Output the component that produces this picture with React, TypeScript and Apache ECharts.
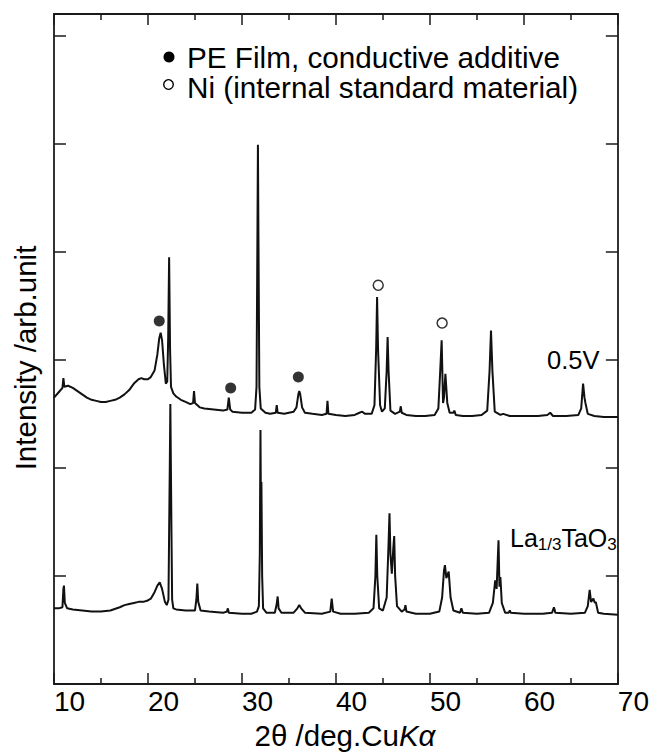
import React, { useEffect, useRef } from "react";
import * as echarts from "echarts";

// 0.5V pattern (upper), [2θ, intensity offset]
const pattern05V: [number, number][] = [
  [10.0, 2.65], [10.5, 2.7], [10.9, 2.74], [11.0, 2.83], [11.1, 2.75], [11.5, 2.76], [12.0, 2.74],
  [12.5, 2.71], [13.0, 2.68], [13.5, 2.65], [14.0, 2.63], [14.5, 2.62], [15.0, 2.61], [15.5, 2.61],
  [16.0, 2.62], [16.5, 2.63], [17.0, 2.65], [17.5, 2.68], [18.0, 2.72], [18.5, 2.78], [19.0, 2.82],
  [19.3, 2.83], [19.6, 2.82], [20.0, 2.82], [20.3, 2.84], [20.7, 2.9], [21.0, 3.05], [21.2, 3.2],
  [21.35, 3.25], [21.5, 3.18], [21.7, 2.95], [21.9, 2.78], [22.05, 2.8], [22.15, 3.2], [22.25, 3.95],
  [22.35, 3.1], [22.45, 2.75], [22.7, 2.69], [23.0, 2.66], [23.5, 2.63], [24.0, 2.61], [24.5, 2.59],
  [24.8, 2.6], [24.9, 2.71], [25.0, 2.6], [25.5, 2.56], [26.0, 2.55], [27.0, 2.54], [28.0, 2.53],
  [28.45, 2.54], [28.6, 2.65], [28.75, 2.54], [29.0, 2.52], [30.0, 2.51], [31.0, 2.51], [31.4, 2.54],
  [31.55, 2.75], [31.65, 4.2], [31.7, 4.99], [31.75, 4.2], [31.85, 2.75], [32.0, 2.55], [32.5, 2.51],
  [33.0, 2.5], [33.6, 2.51], [33.7, 2.58], [33.8, 2.51], [34.5, 2.5], [35.5, 2.52], [35.8, 2.56],
  [36.0, 2.68], [36.1, 2.71], [36.2, 2.68], [36.4, 2.56], [36.7, 2.51], [37.5, 2.5], [38.5, 2.49],
  [39.0, 2.5], [39.1, 2.62], [39.2, 2.5], [40.0, 2.49], [41.0, 2.48], [42.0, 2.49], [42.5, 2.51],
  [42.8, 2.52], [43.1, 2.5], [43.8, 2.5], [44.1, 2.58], [44.28, 3.1], [44.38, 3.58], [44.48, 3.1],
  [44.7, 2.58], [44.9, 2.52], [45.2, 2.55], [45.4, 2.9], [45.5, 3.21], [45.6, 2.9], [45.8, 2.53],
  [46.3, 2.5], [46.8, 2.52], [46.9, 2.57], [47.0, 2.51], [47.5, 2.49], [48.5, 2.48], [49.5, 2.48],
  [50.5, 2.49], [50.9, 2.55], [51.1, 2.9], [51.25, 3.18], [51.4, 2.6], [51.5, 2.65], [51.65, 2.87],
  [51.85, 2.6], [52.1, 2.51], [52.5, 2.51], [52.6, 2.53], [52.75, 2.49], [53.5, 2.48], [54.5, 2.48],
  [55.5, 2.49], [56.1, 2.53], [56.35, 2.9], [56.5, 3.27], [56.65, 2.9], [56.9, 2.52], [57.5, 2.49],
  [57.8, 2.5], [58.5, 2.48], [60.0, 2.48], [61.5, 2.48], [62.5, 2.49], [62.8, 2.51], [63.1, 2.48],
  [64.5, 2.48], [65.8, 2.49], [66.1, 2.55], [66.3, 2.78], [66.45, 2.65], [66.55, 2.6], [66.8, 2.5],
  [67.5, 2.48], [68.5, 2.47], [70.0, 2.47],
];

// La1/3TaO3 pattern (lower)
const patternLaTaO3: [number, number][] = [
  [10.0, 0.7], [10.5, 0.7], [10.9, 0.71], [11.0, 0.88], [11.06, 0.91], [11.15, 0.75], [11.4, 0.7],
  [12.0, 0.69], [13.0, 0.68], [14.0, 0.67], [15.0, 0.67], [16.0, 0.68], [17.0, 0.71], [17.5, 0.73],
  [18.0, 0.74], [18.5, 0.75], [19.0, 0.76], [19.5, 0.76], [19.9, 0.77], [20.3, 0.79], [20.7, 0.85],
  [21.0, 0.91], [21.25, 0.94], [21.5, 0.88], [21.8, 0.76], [22.0, 0.73], [22.18, 0.78], [22.25, 1.4],
  [22.32, 2.0], [22.38, 2.59], [22.44, 2.0], [22.5, 1.4], [22.57, 0.78], [22.7, 0.7], [23.0, 0.69],
  [24.0, 0.68], [25.0, 0.68], [25.15, 0.78], [25.25, 0.93], [25.35, 0.76], [25.6, 0.68], [26.5, 0.67],
  [28.0, 0.66], [28.4, 0.67], [28.5, 0.7], [28.6, 0.66], [30.0, 0.65], [31.0, 0.65], [31.6, 0.67],
  [31.8, 0.72], [31.9, 1.2], [31.97, 2.35], [32.02, 1.6], [32.07, 1.87], [32.15, 1.0], [32.25, 0.7],
  [32.6, 0.66], [33.5, 0.66], [33.7, 0.74], [33.8, 0.81], [33.9, 0.7], [34.2, 0.66], [35.5, 0.66],
  [35.9, 0.7], [36.1, 0.73], [36.3, 0.7], [36.7, 0.66], [38.5, 0.65], [39.4, 0.67], [39.55, 0.79],
  [39.7, 0.67], [40.5, 0.65], [42.0, 0.65], [43.5, 0.66], [44.0, 0.7], [44.2, 1.0], [44.3, 1.38],
  [44.4, 1.0], [44.6, 0.7], [45.0, 0.68], [45.4, 0.8], [45.6, 1.3], [45.7, 1.58], [45.8, 1.2],
  [45.95, 1.02], [46.1, 1.25], [46.2, 1.37], [46.3, 1.0], [46.5, 0.72], [47.0, 0.67], [47.3, 0.69],
  [47.4, 0.73], [47.5, 0.67], [48.5, 0.65], [50.0, 0.65], [51.0, 0.67], [51.3, 0.8], [51.5, 1.05],
  [51.6, 1.1], [51.75, 0.98], [51.9, 1.02], [52.0, 1.04], [52.2, 0.8], [52.5, 0.68], [53.2, 0.66],
  [53.35, 0.7], [53.5, 0.66], [55.0, 0.65], [56.3, 0.66], [56.7, 0.75], [56.95, 0.96], [57.1, 0.88],
  [57.3, 1.33], [57.4, 0.9], [57.5, 0.99], [57.65, 0.75], [58.0, 0.66], [58.4, 0.66], [58.5, 0.68],
  [58.6, 0.66], [60.0, 0.65], [62.0, 0.65], [63.0, 0.66], [63.2, 0.71], [63.35, 0.66], [65.0, 0.65],
  [66.5, 0.66], [66.8, 0.72], [67.0, 0.87], [67.15, 0.76], [67.4, 0.79], [67.55, 0.75], [67.65, 0.76],
  [67.9, 0.66], [68.5, 0.65], [70.0, 0.64],
];

const peMarkers: [number, number][] = [[21.2, 3.36], [28.8, 2.74], [36.0, 2.84]];
const niMarkers: [number, number][] = [[44.5, 3.69], [51.3, 3.34]];

const legendTexts = ["PE Film, conductive additive", "Ni (internal standard material)"];
const xTitle = "2θ /deg.Cu{i|Kα}";
const yTitle = "Intensity /arb.unit";

const FONT = "'Liberation Sans', Arial, sans-serif";
const AX = "#1a1a1a";

export default function App() {
  const ref = useRef<HTMLDivElement>(null);
  useEffect(() => {
    if (!ref.current) return;
    const chart = echarts.init(ref.current, undefined, { renderer: "svg" });
    const axisCommon = {
      type: "value" as const,
      axisLine: { show: true, onZero: false, lineStyle: { color: AX, width: 1.8 } },
      splitLine: { show: false },
    };
    chart.setOption({
      animation: false,
      backgroundColor: "#fff",
      grid: { left: 54, right: 34, top: 14, bottom: 69, containLabel: false },
      xAxis: [
        {
          ...axisCommon,
          position: "bottom",
          min: 10,
          max: 70,
          interval: 10,
          axisTick: { show: true, inside: true, length: 11, lineStyle: { color: AX, width: 1.5 } },
          minorTick: { show: true, splitNumber: 2, length: 6, lineStyle: { color: AX, width: 1.5 } },
          axisLabel: {
            show: true,
            align: "left",
            margin: 3,
            color: "#000",
            fontSize: 28,
            fontFamily: FONT,
            showMaxLabel: true,
            showMinLabel: true,
          },
        },
        {
          ...axisCommon,
          position: "top",
          min: 10,
          max: 70,
          interval: 10,
          axisTick: { show: true, inside: true, length: 11, lineStyle: { color: AX, width: 1.5 } },
          minorTick: { show: true, splitNumber: 2, length: 6, lineStyle: { color: AX, width: 1.5 } },
          axisLabel: { show: false },
        },
      ],
      yAxis: [
        {
          ...axisCommon,
          position: "left",
          min: 0,
          max: 6.2,
          interval: 1,
          axisTick: { show: true, inside: true, length: 12, lineStyle: { color: AX, width: 1.5 } },
          axisLabel: { show: false },
        },
        {
          ...axisCommon,
          position: "right",
          min: 0,
          max: 6.2,
          interval: 1,
          axisTick: { show: true, inside: true, length: 12, lineStyle: { color: AX, width: 1.5 } },
          axisLabel: { show: false },
        },
      ],
      series: [
        {
          name: "0.5V",
          type: "line",
          data: pattern05V,
          showSymbol: false,
          lineStyle: { color: "#111", width: 2 },
          z: 3,
        },
        {
          name: "La1/3TaO3",
          type: "line",
          data: patternLaTaO3,
          showSymbol: false,
          lineStyle: { color: "#111", width: 2 },
          z: 3,
        },
        {
          name: "PE Film, conductive additive",
          type: "scatter",
          data: peMarkers,
          symbol: "circle",
          symbolSize: 11,
          itemStyle: { color: "#000" },
          z: 4,
        },
        {
          name: "Ni (internal standard material)",
          type: "scatter",
          data: niMarkers,
          symbol: "circle",
          symbolSize: 10,
          itemStyle: { color: "#fff", borderColor: "#000", borderWidth: 1.5 },
          z: 4,
        },
      ],
      graphic: [
        { type: "circle", shape: { cx: 169, cy: 57, r: 5.5 }, style: { fill: "#000" } },
        {
          type: "circle",
          shape: { cx: 168.5, cy: 84.5, r: 4.8 },
          style: { fill: "#fff", stroke: "#000", lineWidth: 1.4 },
        },
        {
          type: "text",
          x: 187,
          y: 57,
          style: {
            text: legendTexts[0],
            font: `29.7px ${FONT}`,
            fill: "#000",
            textAlign: "left",
            textVerticalAlign: "middle",
          },
        },
        {
          type: "text",
          x: 187,
          y: 87,
          style: {
            text: legendTexts[1],
            font: `29.7px ${FONT}`,
            fill: "#000",
            textAlign: "left",
            textVerticalAlign: "middle",
          },
        },
        {
          type: "text",
          x: 547,
          y: 360,
          style: {
            text: "0.5V",
            font: `25.5px ${FONT}`,
            fill: "#000",
            textAlign: "left",
            textVerticalAlign: "middle",
          },
        },
        {
          type: "text",
          x: 510,
          y: 538,
          style: {
            text: "La{s|1/3}TaO{s|3}",
            font: `25px ${FONT}`,
            fontFamily: FONT,
            fontSize: 25,
            fill: "#000",
            textAlign: "left",
            textVerticalAlign: "middle",
            rich: {
              s: { fontSize: 17, fontFamily: FONT, fill: "#000", padding: [12, 0, 0, 0] },
            },
          },
        },
        {
          type: "text",
          x: 25,
          y: 358,
          rotation: Math.PI / 2,
          style: {
            text: yTitle,
            font: `29.5px ${FONT}`,
            fill: "#000",
            textAlign: "center",
            textVerticalAlign: "middle",
          },
        },
        {
          type: "text",
          x: 345,
          y: 735,
          style: {
            text: xTitle,
            fontSize: 29.5,
            fontFamily: FONT,
            fill: "#000",
            textAlign: "center",
            textVerticalAlign: "middle",
            rich: {
              i: { fontSize: 29.5, fontFamily: FONT, fontStyle: "italic", fill: "#000" },
            },
          },
        },
      ],
    });
    return () => chart.dispose();
  }, []);
  return (
    <div
      ref={ref}
      style={{ position: "fixed", left: 0, top: 0, width: 652, height: 753, background: "#fff" }}
    />
  );
}
